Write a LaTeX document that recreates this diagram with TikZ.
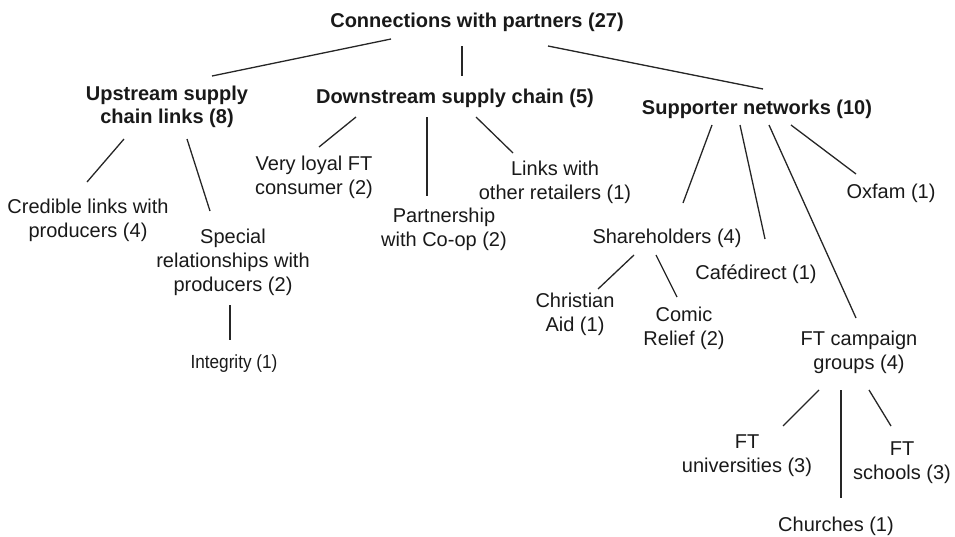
\documentclass[tikz,border=0pt]{standalone}
\usepackage{fontspec}
\setmainfont{Liberation Sans}
\begin{document}
\begin{tikzpicture}[x=1pt,y=-1pt,
  lbl/.style={inner sep=0pt,align=center,font=\fontsize{20}{24}\selectfont,text=black!90},
  head/.style={lbl,font=\fontsize{20}{23}\selectfont\bfseries},
  small/.style={lbl},
  link/.style={line width=1.3pt,black!85}]
\useasboundingbox (0,0) rectangle (955,536);
% nodes
\node[head] (root) at (477,22) {Connections with partners (27)};
\node[head] (up) at (167,107) {Upstream supply\\chain links (8)};
\node[head] (down) at (455,98) {Downstream supply chain (5)};
\node[head] (sup) at (757,109) {Supporter networks (10)};
\node[lbl] (cred) at (88,220) {Credible links with\\producers (4)};
\node[lbl] (spec) at (233,262) {Special\\relationships with\\producers (2)};
\node[small] (integ) at (234,364) {\scalebox{0.86}[0.95]{Integrity (1)}};
\node[lbl] (loyal) at (314,177) {Very loyal FT\\consumer (2)};
\node[lbl] (partner) at (444,229) {Partnership\\with Co-op (2)};
\node[lbl] (links) at (555,182) {Links with\\other retailers (1)};
\node[lbl] (oxfam) at (891,193) {Oxfam (1)};
\node[lbl] (share) at (667,238) {Shareholders (4)};
\node[lbl] (cafe) at (756,274) {Caf\'edirect (1)};
\node[lbl] (christ) at (575,314) {Christian\\Aid (1)};
\node[lbl] (comic) at (684,328) {Comic\\Relief (2)};
\node[lbl] (camp) at (859,352) {FT campaign\\groups (4)};
\node[lbl] (univ) at (747,456) {FT\\universities (3)};
\node[lbl] (school) at (902,463) {FT\\schools (3)};
\node[lbl] (church) at (836,526) {Churches (1)};
% connector end points
\coordinate (r1) at (391,39);  \coordinate (u0) at (212,76);
\coordinate (r2) at (462,46);  \coordinate (d0) at (462,76);
\coordinate (r3) at (548,46);  \coordinate (s0) at (763,89);
\coordinate (u1) at (124,139); \coordinate (c0) at (87,182);
\coordinate (u2) at (187,139); \coordinate (p0) at (210,211);
\coordinate (p1) at (230,305); \coordinate (i0) at (230,340);
\coordinate (d1) at (356,117); \coordinate (l0) at (319,147);
\coordinate (d2) at (427,117); \coordinate (w0) at (427,196);
\coordinate (d3) at (476,117); \coordinate (o0) at (513,153);
\coordinate (s1) at (712,125); \coordinate (h0) at (683,203);
\coordinate (s2) at (740,125); \coordinate (f0) at (765,239);
\coordinate (s3) at (769,125); \coordinate (g0) at (856,318);
\coordinate (s4) at (791,125); \coordinate (x0) at (856,174);
\coordinate (h1) at (634,255); \coordinate (a0) at (598,289);
\coordinate (h2) at (656,255); \coordinate (m0) at (677,297);
\coordinate (g1) at (819,390); \coordinate (v0) at (783,426);
\coordinate (g2) at (841,390); \coordinate (k0) at (841,498);
\coordinate (g3) at (869,390); \coordinate (t0) at (891,426);
% connectors
\draw[link] (r1) -- (u0);
\draw[link] (r2) -- (d0);
\draw[link] (r3) -- (s0);
\draw[link] (u1) -- (c0);
\draw[link] (u2) -- (p0);
\draw[link] (p1) -- (i0);
\draw[link] (d1) -- (l0);
\draw[link] (d2) -- (w0);
\draw[link] (d3) -- (o0);
\draw[link] (s1) -- (h0);
\draw[link] (s2) -- (f0);
\draw[link] (s3) -- (g0);
\draw[link] (s4) -- (x0);
\draw[link] (h1) -- (a0);
\draw[link] (h2) -- (m0);
\draw[link] (g1) -- (v0);
\draw[link] (g2) -- (k0);
\draw[link] (g3) -- (t0);
\end{tikzpicture}
\end{document}
